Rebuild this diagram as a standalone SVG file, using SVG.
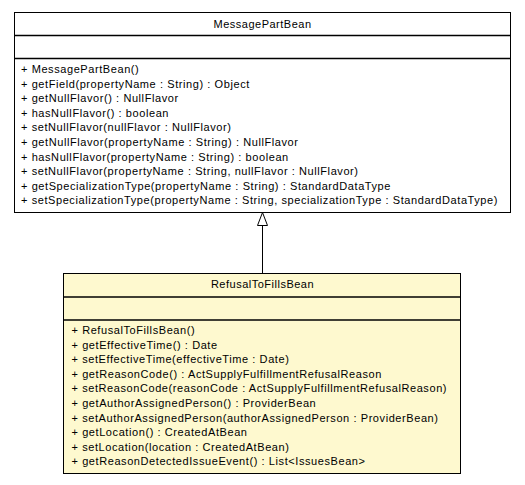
<svg xmlns="http://www.w3.org/2000/svg" width="525" height="485" viewBox="0 0 525 485">
<style>
text{font-family:"Liberation Sans",Arial,Helvetica,sans-serif;font-size:11px;letter-spacing:0.58px;fill:#000}
.t{text-anchor:middle;letter-spacing:0.5px}
.box{stroke:#000;stroke-width:1}
.sep{stroke:#000;stroke-width:1.3}
</style>
<rect width="525" height="485" fill="#fff"/>
<g id="connectors">
<line x1="262.5" y1="273" x2="262.5" y2="225.5" stroke="#000" stroke-width="1"/>
<polygon points="262.5,212.5 257.5,225.5 267.5,225.5" fill="#fff" stroke="#000" stroke-width="1"/>
</g>
<g id="MessagePartBean">
<rect class="box" x="14.5" y="12.5" width="496" height="200" fill="#fff"/>
<line class="sep" x1="14.5" y1="35.5" x2="510.5" y2="35.5"/>
<line class="sep" x1="14.5" y1="58.5" x2="510.5" y2="58.5"/>
<text class="t" x="262.5" y="28">MessagePartBean</text>
<text x="21" y="73">+ MessagePartBean()</text>
<text x="21" y="87.6">+ getField(propertyName : String) : Object</text>
<text x="21" y="102.2">+ getNullFlavor() : NullFlavor</text>
<text x="21" y="116.8">+ hasNullFlavor() : boolean</text>
<text x="21" y="131.4">+ setNullFlavor(nullFlavor : NullFlavor)</text>
<text x="21" y="146">+ getNullFlavor(propertyName : String) : NullFlavor</text>
<text x="21" y="160.6">+ hasNullFlavor(propertyName : String) : boolean</text>
<text x="21" y="175.2">+ setNullFlavor(propertyName : String, nullFlavor : NullFlavor)</text>
<text x="21" y="189.8">+ getSpecializationType(propertyName : String) : StandardDataType</text>
<text x="21" y="204.4">+ setSpecializationType(propertyName : String, specializationType : StandardDataType)</text>
</g>
<g id="RefusalToFillsBean">
<rect class="box" x="63.5" y="273.5" width="397" height="200" fill="#fef9cf"/>
<line class="sep" x1="63.5" y1="297" x2="460.5" y2="297"/>
<line class="sep" x1="63.5" y1="320" x2="460.5" y2="320"/>
<text class="t" x="262.5" y="288">RefusalToFillsBean</text>
<text x="71.5" y="334">+ RefusalToFillsBean()</text>
<text x="71.5" y="348.6">+ getEffectiveTime() : Date</text>
<text x="71.5" y="363.2">+ setEffectiveTime(effectiveTime : Date)</text>
<text x="71.5" y="377.8">+ getReasonCode() : ActSupplyFulfillmentRefusalReason</text>
<text x="71.5" y="392.4">+ setReasonCode(reasonCode : ActSupplyFulfillmentRefusalReason)</text>
<text x="71.5" y="407">+ getAuthorAssignedPerson() : ProviderBean</text>
<text x="71.5" y="421.6">+ setAuthorAssignedPerson(authorAssignedPerson : ProviderBean)</text>
<text x="71.5" y="436.2">+ getLocation() : CreatedAtBean</text>
<text x="71.5" y="450.8">+ setLocation(location : CreatedAtBean)</text>
<text x="71.5" y="465.4">+ getReasonDetectedIssueEvent() : List&lt;IssuesBean&gt;</text>
</g>
</svg>
